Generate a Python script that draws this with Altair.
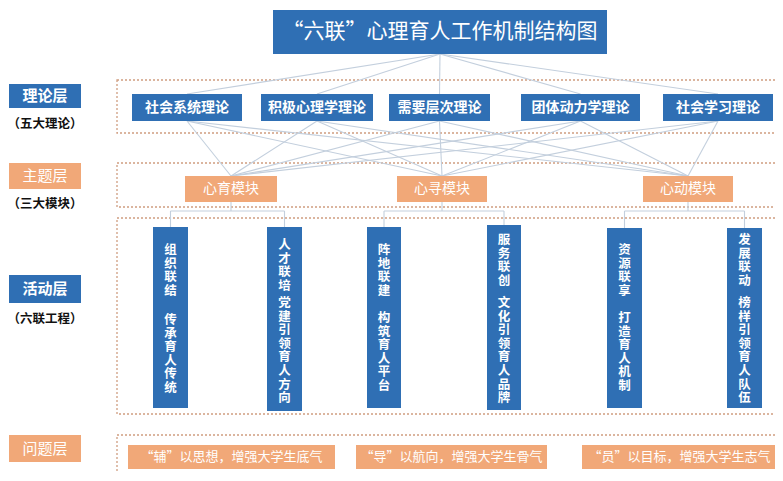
import altair as alt
import pandas as pd

# ---------------- text content ----------------
title_text = "“六联”心理育人工作机制结构图"
layer_names = ["理论层", "主题层", "活动层", "问题层"]
layer_subs = ["（五大理论）", "（三大模块）", "（六联工程）", "（三大目标）"]
theories = ["社会系统理论", "积极心理学理论", "需要层次理论", "团体动力学理论", "社会学习理论"]
modules = ["心育模块", "心寻模块", "心动模块"]
projects = ["组织联结", "人才联培", "阵地联建", "服务联创", "资源联享", "发展联动"]
project_goals = ["传承育人传统", "党建引领育人方向", "构筑育人平台", "文化引领育人品牌", "打造育人机制", "榜样引领育人队伍"]
problems = ["“辅”以思想，增强大学生底气", "“导”以航向，增强大学生骨气", "“员”以目标，增强大学生志气"]

# ---------------- layout (pixel positions) ----------------
BLUE = "#2f6fb4"
ORANGE = "#f1a878"
LINE = "#c3cfdd"
FRAME = "#cf9d80"
FONT = "Noto Sans CJK SC"

title_box = (273, 607, 10, 54)
layer_box_x = (9, 81)
layer_box_y = [(84, 108), (163, 189), (275, 303), (435, 462)]
layer_colors = [BLUE, ORANGE, BLUE, ORANGE]
layer_sub_y = [124, 204, 319, 482]
frames = [(117, 779, 80, 133), (117, 779, 163, 207), (117, 779, 218, 414), (117, 779, 435, 477)]
theory_x = [(132, 242), (261, 373), (389, 490), (521, 640), (663, 773)]
theory_y = (94, 121)
module_x = [(185, 277), (397, 487), (643, 733)]
module_y = (176, 202)
col_x = [(153, 188), (267, 302), (367, 401), (487, 521), (607, 642), (727, 762)]
col_top = [227, 227, 227, 225, 228, 228]
col_bot = [408, 411, 408, 410, 408, 408]
col_g1 = [250, 245, 250, 240, 250, 240]
col_g2 = [320, 303, 318, 303, 318, 303]
char_step = 13.6
connector_y = 211
problem_x = [(128, 335), (356, 547), (582, 777)]
problem_y = (445, 469)

# ---------------- build tables ----------------
rects = []
rects.append(dict(x=title_box[0], x2=title_box[1], y=title_box[2], y2=title_box[3], fill=BLUE))
for (y1, y2), c in zip(layer_box_y, layer_colors):
    rects.append(dict(x=layer_box_x[0], x2=layer_box_x[1], y=y1, y2=y2, fill=c))
for x1, x2 in theory_x:
    rects.append(dict(x=x1, x2=x2, y=theory_y[0], y2=theory_y[1], fill=BLUE))
for x1, x2 in module_x:
    rects.append(dict(x=x1, x2=x2, y=module_y[0], y2=module_y[1], fill=ORANGE))
for (x1, x2), t, b in zip(col_x, col_top, col_bot):
    rects.append(dict(x=x1, x2=x2, y=t, y2=b, fill=BLUE))
for x1, x2 in problem_x:
    rects.append(dict(x=x1, x2=x2, y=problem_y[0], y2=problem_y[1], fill=ORANGE))
rects = pd.DataFrame(rects)

frames_df = pd.DataFrame([dict(x=a, x2=b, y=c, y2=d) for a, b, c, d in frames])

lines = []
tcx = (title_box[0] + title_box[1]) / 2
for x1, x2 in theory_x:
    lines.append(dict(x=tcx, x2=(x1 + x2) / 2, y=title_box[3], y2=theory_y[0]))
for tx1, tx2 in theory_x:
    for mx1, mx2 in module_x:
        lines.append(dict(x=(tx1 + tx2) / 2, x2=(mx1 + mx2) / 2, y=theory_y[1], y2=module_y[0]))
for j, (mx1, mx2) in enumerate(module_x):
    mc = (mx1 + mx2) / 2
    a = col_x[2 * j]
    b = col_x[2 * j + 1]
    ca = (a[0] + a[1]) / 2
    cb = (b[0] + b[1]) / 2
    lines.append(dict(x=mc, x2=mc, y=module_y[1], y2=connector_y))
    lines.append(dict(x=ca, x2=cb, y=connector_y, y2=connector_y))
    lines.append(dict(x=ca, x2=ca, y=connector_y, y2=col_top[2 * j]))
    lines.append(dict(x=cb, x2=cb, y=connector_y, y2=col_top[2 * j + 1]))
lines = pd.DataFrame(lines)

bold_white = []
normal_white = []
bold_black = []

normal_white.append(dict(x=tcx, y=(title_box[2] + title_box[3]) / 2, text=title_text, size=21))
for i, name in enumerate(layer_names):
    row = dict(x=(layer_box_x[0] + layer_box_x[1]) / 2, y=sum(layer_box_y[i]) / 2, text=name, size=15)
    (bold_white if layer_colors[i] == BLUE else normal_white).append(row)
for i, s in enumerate(layer_subs):
    bold_black.append(dict(x=(layer_box_x[0] + layer_box_x[1]) / 2, y=layer_sub_y[i], text=s, size=12.5))
for (x1, x2), t in zip(theory_x, theories):
    bold_white.append(dict(x=(x1 + x2) / 2, y=sum(theory_y) / 2, text=t, size=14))
for (x1, x2), t in zip(module_x, modules):
    normal_white.append(dict(x=(x1 + x2) / 2, y=sum(module_y) / 2, text=t, size=14))
for i, ((x1, x2), p, g) in enumerate(zip(col_x, projects, project_goals)):
    cx = (x1 + x2) / 2
    for k, ch in enumerate(p):
        bold_white.append(dict(x=cx, y=col_g1[i] + k * char_step, text=ch, size=12.5))
    for k, ch in enumerate(g):
        bold_white.append(dict(x=cx, y=col_g2[i] + k * char_step, text=ch, size=12.5))
for (x1, x2), t in zip(problem_x, problems):
    normal_white.append(dict(x=(x1 + x2) / 2, y=sum(problem_y) / 2, text=t, size=13))

bold_white = pd.DataFrame(bold_white)
normal_white = pd.DataFrame(normal_white)
bold_black = pd.DataFrame(bold_black)

# ---------------- chart ----------------
xs = alt.Scale(domain=[8, 775], nice=False, zero=False)
ys = alt.Scale(domain=[8, 473], nice=False, zero=False, reverse=True)
X = alt.X("x:Q", scale=xs, axis=None)
Y = alt.Y("y:Q", scale=ys, axis=None)

line_layer = alt.Chart(lines).mark_rule(color=LINE, strokeWidth=1.1).encode(
    x=X, x2="x2:Q", y=Y, y2="y2:Q")
frame_layer = alt.Chart(frames_df).mark_rect(
    fillOpacity=0, stroke=FRAME, strokeWidth=1.3, strokeDash=[2, 2]).encode(
    x=X, x2="x2:Q", y=Y, y2="y2:Q")
rect_layer = alt.Chart(rects).mark_rect().encode(
    x=X, x2="x2:Q", y=Y, y2="y2:Q", color=alt.Color("fill:N", scale=None))


def text_layer(df, color, weight):
    return alt.Chart(df).mark_text(
        font=FONT, fontWeight=weight, color=color, align="center", baseline="middle").encode(
        x=X, y=Y, text="text:N", size=alt.Size("size:Q", scale=None))


chart = alt.layer(
    frame_layer,
    line_layer,
    rect_layer,
    text_layer(bold_white, "white", "bold"),
    text_layer(normal_white, "white", "normal"),
    text_layer(bold_black, "#111111", "bold"),
).properties(
    width=767, height=465, padding=0,
    autosize=alt.AutoSizeParams(type="none"),
    background="white",
).configure_view(stroke=None)

chart.save("out.html", embed_options={"renderer": "svg", "actions": False})
